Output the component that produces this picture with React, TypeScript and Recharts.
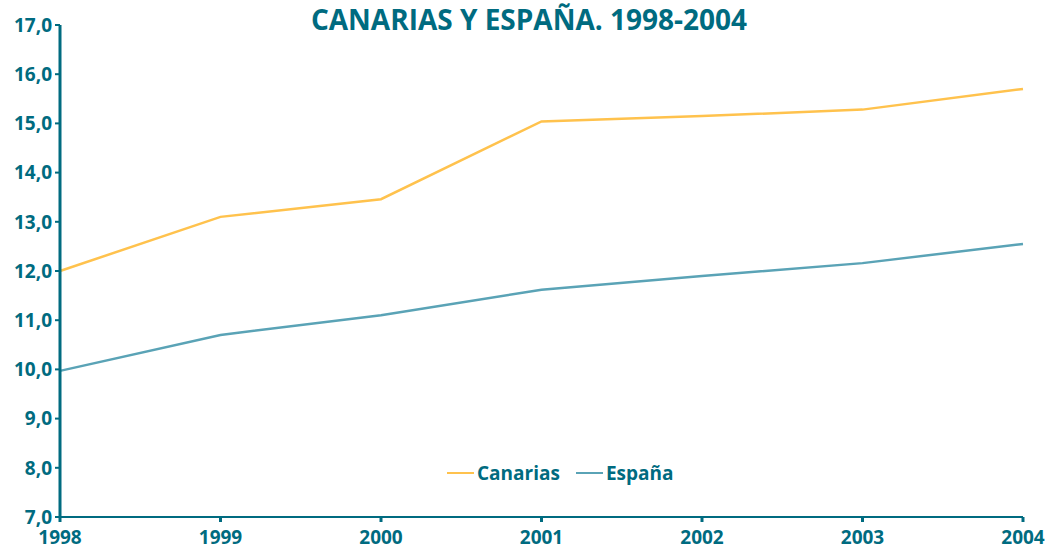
import React from 'react';
import { LineChart, Line, XAxis, YAxis } from 'recharts';

const years = ['1998', '1999', '2000', '2001', '2002', '2003', '2004'];
const canarias = [12.0, 13.1, 13.46, 15.04, 15.15, 15.28, 15.7];
const espana = [9.97, 10.7, 11.1, 11.62, 11.9, 12.16, 12.55];
const yTicks = [7, 8, 9, 10, 11, 12, 13, 14, 15, 16, 17];

const data = years.map((y, i) => ({ year: y, Canarias: canarias[i], España: espana[i] }));

const TEAL = '#006b80';
const YELLOW = '#ffc24d';
const BLUE = '#5aa3b6';
const FONT = '"Open Sans", sans-serif';

const LegendBox = () => (
  <div style={{ position: 'absolute', left: 447, top: 460, display: 'flex', alignItems: 'center', fontFamily: FONT, fontWeight: 700, fontSize: 19, color: TEAL, zIndex: 2 }}>
    <span style={{ display: 'inline-block', width: 27, height: 2, background: YELLOW, marginRight: 3 }} />
    <span style={{ marginRight: 16 }}>Canarias</span>
    <span style={{ display: 'inline-block', width: 27, height: 2, background: BLUE, marginRight: 3 }} />
    <span>España</span>
  </div>
);

export default function App() {
  return (
    <div style={{ position: 'absolute', left: 0, top: 0, width: 1048, height: 550, background: '#fff' }}>
      <div style={{ position: 'absolute', left: 0, top: 0, width: 1058, textAlign: 'center', fontFamily: FONT, fontWeight: 700, fontSize: 28, color: TEAL, zIndex: 2 }}>
        CANARIAS Y ESPAÑA. 1998-2004
      </div>
      <LegendBox />
      <LineChart width={1048} height={550} data={data} margin={{ top: 25, right: 25, bottom: 0, left: 0 }}>
        <XAxis
          dataKey="year"
          height={33}
          axisLine={{ stroke: TEAL, strokeWidth: 2 }}
          tickLine={{ stroke: TEAL, strokeWidth: 3 }}
          tickSize={5}
          tickMargin={9}
          tick={{ fill: TEAL, fontFamily: FONT, fontWeight: 700, fontSize: 19 }}
          interval={0}
        />
        <YAxis
          width={60}
          domain={[7, 17]}
          ticks={yTicks}
          interval={0}
          tickFormatter={(v: number) => v.toFixed(1).replace('.', ',')}
          axisLine={{ stroke: TEAL, strokeWidth: 3 }}
          tickLine={{ stroke: TEAL, strokeWidth: 2 }}
          tickSize={5}
          tickMargin={3}
          tick={{ fill: TEAL, fontFamily: FONT, fontWeight: 700, fontSize: 19 }}
        />
        <Line type="linear" dataKey="Canarias" stroke={YELLOW} strokeWidth={2.5} dot={false} isAnimationActive={false} />
        <Line type="linear" dataKey="España" stroke={BLUE} strokeWidth={2.5} dot={false} isAnimationActive={false} />
      </LineChart>
    </div>
  );
}
